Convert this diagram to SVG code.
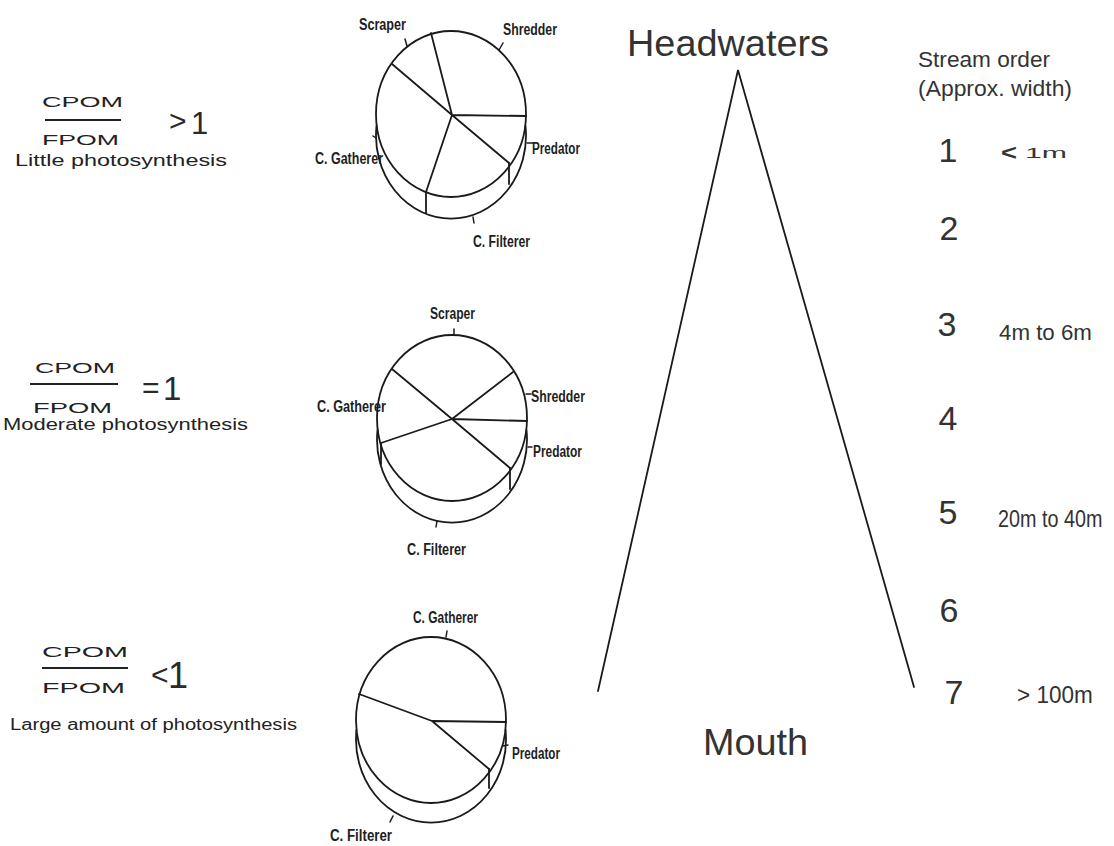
<svg xmlns="http://www.w3.org/2000/svg" width="1114" height="846" viewBox="0 0 1114 846">
<style>
.pie{fill:none;stroke:#1a1a1a;stroke-width:1.8;stroke-linecap:round;stroke-linejoin:round}
.tick{fill:none;stroke:#1a1a1a;stroke-width:1.5;stroke-linecap:round}
.lbl{font-family:"Liberation Sans Narrow","Liberation Sans",Arial,sans-serif;font-weight:bold;font-size:16px;fill:#1e1e1e}
.frac{font-family:"Liberation Sans",Arial,sans-serif;font-size:14px;fill:#222}
.rel{font-family:"Liberation Sans",Arial,sans-serif;font-size:30px;fill:#2a2a2a}
.desc{font-family:"Liberation Sans",Arial,sans-serif;font-size:16px;fill:#222}
.big{font-family:"Liberation Sans",Arial,sans-serif;font-size:36px;fill:#333}
.num{font-family:"Liberation Sans",Arial,sans-serif;font-size:34px;fill:#333;text-anchor:middle}
.wid{font-family:"Liberation Sans",Arial,sans-serif;font-size:23px;fill:#333}
.hdr{font-family:"Liberation Sans",Arial,sans-serif;font-size:22px;fill:#333}
.bar{stroke:#222;stroke-width:1.8}
.tri{fill:none;stroke:#1a1a1a;stroke-width:1.8;stroke-linecap:round}
</style>
<rect width="1114" height="846" fill="#ffffff"/>

<!-- Ratio labels -->
<g id="ratio-high">
  <text class="frac" x="42" y="107" textLength="81" lengthAdjust="spacingAndGlyphs">CPOM</text>
  <line class="bar" x1="45" y1="120" x2="121" y2="120"/>
  <text class="frac" x="42" y="145" textLength="77" lengthAdjust="spacingAndGlyphs">FPOM</text>
  <text class="rel"><tspan x="169" y="131">&gt;</tspan><tspan x="191" y="134" style="font-size:31px">1</tspan></text>
  <text class="desc" x="15" y="166" textLength="212" lengthAdjust="spacingAndGlyphs">Little photosynthesis</text>
</g>
<g id="ratio-equal">
  <text class="frac" x="35" y="373" textLength="80" lengthAdjust="spacingAndGlyphs">CPOM</text>
  <line class="bar" x1="30" y1="384" x2="118" y2="384"/>
  <text class="frac" x="33" y="413" textLength="79" lengthAdjust="spacingAndGlyphs">FPOM</text>
  <text class="rel"><tspan x="142" y="398">=</tspan><tspan x="163" y="400" style="font-size:33px">1</tspan></text>
  <text class="desc" x="3" y="430" textLength="245" lengthAdjust="spacingAndGlyphs">Moderate photosynthesis</text>
</g>
<g id="ratio-low">
  <text class="frac" x="42" y="657" textLength="86" lengthAdjust="spacingAndGlyphs">CPOM</text>
  <line class="bar" x1="42" y1="668" x2="128" y2="668"/>
  <text class="frac" x="42" y="693" textLength="83" lengthAdjust="spacingAndGlyphs">FPOM</text>
  <text class="rel"><tspan x="151" y="685">&lt;</tspan><tspan x="168" y="688" style="font-size:36px">1</tspan></text>
  <text class="desc" x="10" y="730" textLength="287" lengthAdjust="spacingAndGlyphs">Large amount of photosynthesis</text>
</g>

<!-- Pie 1 -->
<g id="pie-headwaters">
  <ellipse class="pie" cx="451" cy="114" rx="75" ry="83"/>
  <path class="pie" d="M376.5 126 A75 83 0 1 0 525.5 126"/>
  <path class="pie" d="M452 115 L431 33 M452 115 L392 64 M452 115 L526 116 M452 115 L509 163 M452 115 L426 192"/>
  <path class="pie" d="M426 192 L426 213 M509 163 L509 184"/>
  <path class="tick" d="M407 46 L405 39 M499 50 L503 43 M527 143 L533 143 M376 138 L373 136 M473 217 L474 223"/>
  <text class="lbl" x="359" y="30" textLength="47" lengthAdjust="spacingAndGlyphs">Scraper</text>
  <text class="lbl" x="503" y="35" textLength="54" lengthAdjust="spacingAndGlyphs">Shredder</text>
  <text class="lbl" x="532" y="154" textLength="48" lengthAdjust="spacingAndGlyphs">Predator</text>
  <text class="lbl" x="315" y="164" textLength="68" lengthAdjust="spacingAndGlyphs">C. Gatherer</text>
  <text class="lbl" x="473" y="247" textLength="57" lengthAdjust="spacingAndGlyphs">C. Filterer</text>
</g>

<!-- Pie 2 -->
<g id="pie-middle">
  <ellipse class="pie" cx="452" cy="418" rx="75" ry="83"/>
  <path class="pie" d="M377.5 430 A75 83 0 1 0 526.5 430"/>
  <path class="pie" d="M452 419 L392 369 M452 419 L513 372 M452 419 L527 421 M452 419 L510 468 M452 419 L381 443"/>
  <path class="pie" d="M510 468 L510 489 M381 443 L381 464"/>
  <path class="tick" d="M454 335 L454 329 M526 394 L531 394 M528 447 L532 447 M437 521 L436 527"/>
  <text class="lbl" x="430" y="319" textLength="45" lengthAdjust="spacingAndGlyphs">Scraper</text>
  <text class="lbl" x="531" y="402" textLength="54" lengthAdjust="spacingAndGlyphs">Shredder</text>
  <text class="lbl" x="533" y="457" textLength="49" lengthAdjust="spacingAndGlyphs">Predator</text>
  <text class="lbl" x="317" y="412" textLength="69" lengthAdjust="spacingAndGlyphs">C. Gatherer</text>
  <text class="lbl" x="407" y="555" textLength="59" lengthAdjust="spacingAndGlyphs">C. Filterer</text>
</g>

<!-- Pie 3 -->
<g id="pie-mouth">
  <ellipse class="pie" cx="431" cy="720" rx="75" ry="83"/>
  <path class="pie" d="M356.5 730 A75 83 0 1 0 505.5 730"/>
  <path class="pie" d="M432 721 L359 694 M432 721 L506 722 M432 721 L489 769"/>
  <path class="pie" d="M489 769 L489 788"/>
  <path class="tick" d="M446 637 L447 631 M503 746 L508 745 M393 816 L390 822"/>
  <text class="lbl" x="413" y="623" textLength="65" lengthAdjust="spacingAndGlyphs">C. Gatherer</text>
  <text class="lbl" x="512" y="759" textLength="48" lengthAdjust="spacingAndGlyphs">Predator</text>
  <text class="lbl" x="330" y="841" textLength="62" lengthAdjust="spacingAndGlyphs">C. Filterer</text>
</g>

<!-- River triangle -->
<g id="connectors">
  <path class="tri" d="M598 691 L738 70 L914 687"/>
</g>

<g id="headwaters">
  <text class="big" x="627" y="56" textLength="202" lengthAdjust="spacingAndGlyphs">Headwaters</text>
</g>
<g id="mouth">
  <text class="big" x="703" y="755" textLength="105" lengthAdjust="spacingAndGlyphs">Mouth</text>
</g>

<!-- Stream order -->
<g id="stream-order">
  <text class="hdr" x="918" y="67" textLength="132" lengthAdjust="spacingAndGlyphs">Stream order</text>
  <text class="hdr" x="918" y="96" textLength="154" lengthAdjust="spacingAndGlyphs">(Approx. width)</text>
  <text class="num" x="948" y="162">1</text>
  <text class="num" x="949" y="240">2</text>
  <text class="num" x="947" y="336">3</text>
  <text class="num" x="948" y="430">4</text>
  <text class="num" x="948" y="524">5</text>
  <text class="num" x="949" y="622">6</text>
  <text class="num" x="954" y="704">7</text>
  <text class="hdr" x="1001" y="160" style="font-weight:bold" textLength="16" lengthAdjust="spacingAndGlyphs">&lt;</text>
  <text class="hdr" x="1025" y="158" style="font-size:15px" textLength="42" lengthAdjust="spacingAndGlyphs">1m</text>
  <text class="wid" transform="translate(999,340) scale(0.97,1)" x="0" y="0">4m to 6m</text>
  <text class="wid" transform="translate(998,527) scale(0.86,1)" x="0" y="0">20m to 40m</text>
  <text class="wid" transform="translate(1017,703) scale(0.98,1)" x="0" y="0">&gt; 100m</text>
</g>
</svg>
